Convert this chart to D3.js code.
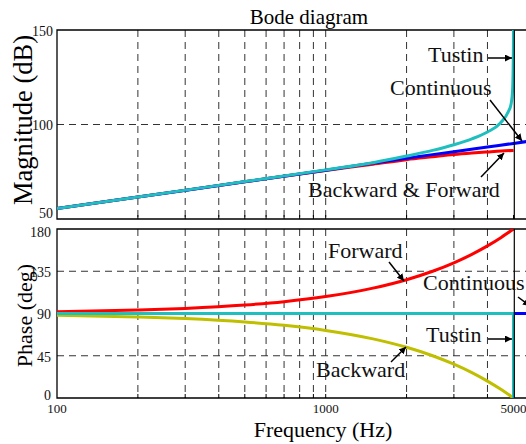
<!DOCTYPE html>
<html>
<head>
<meta charset="utf-8">
<script src="https://cdn.jsdelivr.net/npm/d3@7"></script>
<style>
  body { margin: 0; background: #fff; }
  svg { display: block; font-family: "Liberation Serif", "Times New Roman", serif; }
</style>
</head>
<body>
<div id="chart"></div>
<script>
/* Bode diagram: magnitude and phase of the discretised differentiator */

// Frequency grid (Hz)
const gridFreqs = [200, 300, 400, 500, 600, 700, 800, 900, 1000, 2000, 3000, 4000];
const freqTickLabels = [100, 1000, 5000];
const magTicks = [50, 100, 150];
const phaseTicks = [0, 45, 90, 135, 180];

// Magnitude (dB)
const contMagFreq = [100, 200, 500, 1000, 2000, 3000, 4000, 5000, 5600];
const contMag = [55.5, 61.6, 69.7, 75.8, 82.2, 85.6, 88.1, 90.0, 91.0];

const tustinMagFreq = [100, 200, 500, 1000, 1500, 2000, 2500, 3000, 3500, 4000, 4470, 4790, 4900, 4960, 4985, 4998, 5000];
const tustinMag = [55.5, 61.6, 69.8, 76.0, 79.8, 83.3, 86.3, 89.3, 92.4, 96.0, 100.8, 107, 111, 118, 130, 145, 155];

const bfMagFreq = [100, 200, 500, 1000, 1500, 2000, 2500, 3000, 3500, 4000, 4500, 5000];
const bfMag = [55.5, 61.6, 69.7, 75.7, 79.0, 81.4, 82.9, 84.1, 84.9, 85.5, 86.0, 86.3];

// Phase (deg)
const phaseFreq = [100, 200, 300, 500, 700, 1000, 1500, 2000, 2500, 3000, 3500, 4000, 4500, 5000];
const forwardPhase = [91.8, 93.6, 95.4, 99, 102.6, 108, 117, 126, 135, 144, 153, 162, 171, 180];
const backwardPhase = [88.2, 86.4, 84.6, 81, 77.4, 72, 63, 54, 45, 36, 27, 18, 9, 0];
const contPhaseFreq = [100, 5600];
const contPhase = [90, 90];
const tustinPhaseFreq = [100, 5000, 5000];
const tustinPhase = [90, 90, 0];

const W = 526, H = 444;
const left = 57, right = 526;
const top1 = { y0: 30, y1: 219 };
const top2 = { y0: 229, y1: 398 };

const colors = { cont: "#0000ff", tustin: "#1fbfbf", forward: "#ff0000", backward: "#bfbf00" };

const svg = d3.select("#chart").append("svg")
  .attr("width", W)
  .attr("height", H);

const defs = svg.append("defs");
defs.append("marker")
  .attr("id", "arrow")
  .attr("viewBox", "0 0 10 10")
  .attr("refX", 10).attr("refY", 5)
  .attr("markerWidth", 7).attr("markerHeight", 7)
  .attr("markerUnits", "userSpaceOnUse")
  .attr("orient", "auto")
  .append("path")
  .attr("d", "M0,0 L10,5 L0,10 Z")
  .attr("fill", "#000");

const x = d3.scaleLog()
  .domain([100, 5000])
  .range([left, 513.5]);

const yMag = d3.scaleLinear().domain([50, 150]).range([top1.y1, top1.y0]);
const yPh = d3.scaleLinear().domain([0, 180]).range([top2.y1, top2.y0]);

// shift the end labels a little so they stay inside the panel, as in the original
function labelShift(y, d) {
  const [lo, hi] = y.domain();
  if (d === lo) return y === yMag ? -6 : -2.5;
  if (d === hi) return y === yMag ? 1 : 3;
  return 1;
}

function panel(id, y, yTicks, yTickX, gridY) {
  const g = svg.append("g");
  defs.append("clipPath").attr("id", id)
    .append("rect")
    .attr("x", left).attr("y", y.range()[1])
    .attr("width", right - left).attr("height", y.range()[0] - y.range()[1]);

  // vertical grid
  g.selectAll(".vg").data(gridFreqs).join("line")
    .attr("x1", d => x(d)).attr("x2", d => x(d))
    .attr("y1", y.range()[1]).attr("y2", y.range()[0])
    .attr("stroke", "#333").attr("stroke-width", 1)
    .attr("stroke-dasharray", "7,5");

  // horizontal grid
  g.selectAll(".hg").data(gridY).join("line")
    .attr("x1", left).attr("x2", right)
    .attr("y1", d => y(d)).attr("y2", d => y(d))
    .attr("stroke", "#333").attr("stroke-width", 1)
    .attr("stroke-dasharray", "7,5");

  // inward ticks on the bottom edge
  g.selectAll(".tk").data(gridFreqs.concat([5000])).join("line")
    .attr("x1", d => x(d)).attr("x2", d => x(d))
    .attr("y1", y.range()[0]).attr("y2", y.range()[0] - 4)
    .attr("stroke", "#000");

  // frame
  g.append("path")
    .attr("d", `M${right},${y.range()[1]}H${left}V${y.range()[0]}H${right}`)
    .attr("fill", "none").attr("stroke", "#000").attr("stroke-width", 1.3);

  // y tick labels
  g.selectAll(".yl").data(yTicks).join("text")
    .attr("x", yTickX).attr("y", d => y(d) + labelShift(y, d))
    .attr("dy", "0.35em")
    .attr("text-anchor", "end")
    .attr("font-size", 14)
    .attr("fill", "#111")
    .text(d => d);

  return svg.append("g").attr("clip-path", `url(#${id})`);
}

const magG = panel("clipMag", yMag, magTicks, 53, [100]);
const phG = panel("clipPh", yPh, phaseTicks, 51, [45, 90, 135]);

function drawLine(g, fs, vs, y, color, curve) {
  const pts = fs.map((f, i) => [f, vs[i]]);
  g.append("path")
    .datum(pts)
    .attr("fill", "none")
    .attr("stroke", color)
    .attr("stroke-width", 3)
    .attr("d", d3.line().x(d => x(d[0])).y(d => y(d[1])).curve(curve || d3.curveMonotoneX));
}

// Magnitude curves
drawLine(magG, bfMagFreq, bfMag, yMag, colors.forward);
drawLine(magG, contMagFreq, contMag, yMag, colors.cont);
drawLine(magG, tustinMagFreq, tustinMag, yMag, colors.tustin);

// Phase curves
drawLine(phG, phaseFreq, forwardPhase, yPh, colors.forward);
drawLine(phG, phaseFreq, backwardPhase, yPh, colors.backward);
drawLine(phG, contPhaseFreq, contPhase, yPh, colors.cont, d3.curveLinear);
drawLine(phG, tustinPhaseFreq, tustinPhase, yPh, colors.tustin, d3.curveLinear);

// Nyquist line at 5000 Hz
[yMag, yPh].forEach(y => {
  svg.append("line")
    .attr("x1", x(5000) + 0.8).attr("x2", x(5000) + 0.8)
    .attr("y1", y.range()[1]).attr("y2", y.range()[0])
    .attr("stroke", "#000").attr("stroke-width", 1.2);
});

// x tick labels
svg.selectAll(".xl").data(freqTickLabels).join("text")
  .attr("x", d => x(d)).attr("y", 413)
  .attr("text-anchor", "middle")
  .attr("font-size", 13)
  .attr("fill", "#111")
  .text(d => d);

// Titles
svg.append("text")
  .attr("x", 309).attr("y", 24)
  .attr("text-anchor", "middle")
  .attr("font-size", 21)
  .text("Bode diagram");

svg.append("text")
  .attr("x", 323).attr("y", 437)
  .attr("text-anchor", "middle")
  .attr("font-size", 22)
  .text("Frequency (Hz)");

svg.append("text")
  .attr("transform", `translate(32, 120) rotate(-90)`)
  .attr("text-anchor", "middle")
  .attr("font-size", 26.5)
  .text("Magnitude (dB)");

svg.append("text")
  .attr("transform", `translate(32, ${(top2.y0 + top2.y1) / 2 + 2}) rotate(-90)`)
  .attr("text-anchor", "middle")
  .attr("font-size", 22)
  .text("Phase (deg)");

// Annotations: label text, position, arrow start -> end
const notes = [
  { t: "Tustin", x: 428, y: 62, a: [488, 58, 512, 58] },
  { t: "Continuous", x: 390, y: 95, a: [490, 100, 522, 141] },
  { t: "Backward & Forward", x: 308, y: 197, a: [481, 177, 504, 153] },
  { t: "Forward", x: 328, y: 258, a: [389, 262, 404, 281] },
  { t: "Continuous", x: 423, y: 290, a: [518, 297, 530, 306] },
  { t: "Tustin", x: 426, y: 342, a: [488, 339, 512, 339] },
  { t: "Backward", x: 316, y: 377, a: [391, 362, 406, 347] }
];

svg.selectAll(".note").data(notes).join("text")
  .attr("x", d => d.x).attr("y", d => d.y)
  .attr("font-size", 22)
  .attr("fill", "#111")
  .text(d => d.t);

svg.selectAll(".arr").data(notes).join("line")
  .attr("x1", d => d.a[0]).attr("y1", d => d.a[1])
  .attr("x2", d => d.a[2]).attr("y2", d => d.a[3])
  .attr("stroke", "#000").attr("stroke-width", 1.5)
  .attr("marker-end", "url(#arrow)");
</script>
</body>
</html>
